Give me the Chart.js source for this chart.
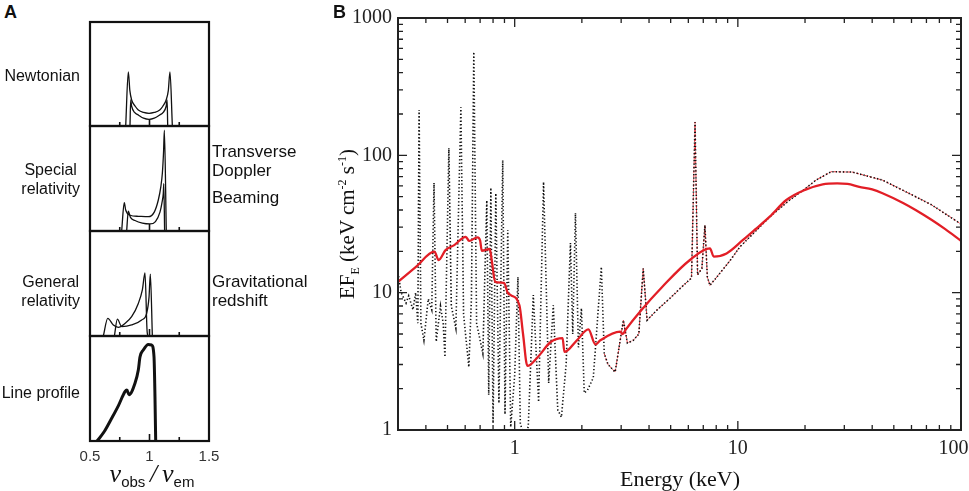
<!DOCTYPE html>
<html>
<head>
<meta charset="utf-8">
<script src="https://cdn.jsdelivr.net/npm/chart.js@4.4.1/dist/chart.umd.min.js"></script>
<style>
  body { margin: 0; background: #fff; width: 969px; height: 491px; position: relative; overflow: hidden;
         font-family: "Liberation Sans", Arial, sans-serif; color: #111; }
  canvas { position: absolute; }
  .lbl { position: absolute; font-size: 17px; line-height: 19px; white-space: nowrap; }
  .lft { font-size: 16px; }
  .panel { position: absolute; font-weight: bold; font-size: 18px; line-height: 18px; }
  .serif { position: absolute; font-family: "Liberation Serif", "Times New Roman", serif; white-space: nowrap; color: #111; }
  .nu { font-family: "Liberation Serif", serif; font-style: italic; font-size: 26px; }
  sub { font-size: 15px; }
</style>
</head>
<body>
<canvas id="a0" width="180" height="112" style="left:60px;top:18px"></canvas>
<canvas id="a1" width="180" height="113" style="left:60px;top:122px"></canvas>
<canvas id="a2" width="180" height="113" style="left:60px;top:227px"></canvas>
<canvas id="a3" width="180" height="159" style="left:60px;top:332px"></canvas>
<canvas id="specB" width="713" height="491" style="left:280px;top:0px"></canvas>

<div class="panel" style="left:4px;top:3px">A</div>
<div class="panel" style="left:333px;top:3px">B</div>

<div class="lbl lft" style="right:889px;top:66px;text-align:right">Newtonian</div>
<div class="lbl lft" style="right:889px;top:160px;text-align:center">Special<br>relativity</div>
<div class="lbl lft" style="right:889px;top:272px;text-align:center">General<br>relativity</div>
<div class="lbl lft" style="right:889px;top:383px;text-align:right">Line profile</div>
<div class="lbl" style="left:212px;top:142px">Transverse<br>Doppler</div>
<div class="lbl" style="left:212px;top:188px">Beaming</div>
<div class="lbl" style="left:212px;top:272px">Gravitational<br>redshift</div>

<div class="lbl" style="left:152px;top:478px;transform:translate(-50%,-50%);line-height:26px">
  <span class="nu">ν</span><sub>obs</sub> <span class="nu">/</span> <span class="nu">ν</span><sub>em</sub>
</div>

<div class="serif" style="left:680px;top:479px;transform:translate(-50%,-50%);font-size:22px">Energy (keV)</div>
<div class="serif" style="left:349px;top:224px;transform:translate(-50%,-50%) rotate(-90deg);font-size:21px">
  EF<sub style="font-size:12px">E</sub> (keV cm<sup style="font-size:12px">-2</sup> s<sup style="font-size:12px">-1</sup>)
</div>

<script>
// ---- panel A: line profiles (nu_obs/nu_em vs. arbitrary intensity) ----
const newtNu1 = [0.80, 0.822, 0.835, 0.85, 0.88, 0.906, 0.95, 0.996, 1.04, 1.086, 1.112, 1.14, 1.158, 1.172, 1.192];
const newtI1  = [0, 0.52, 0.34, 0.25, 0.19, 0.154, 0.13, 0.122, 0.13, 0.154, 0.19, 0.25, 0.34, 0.52, 0];
const newtNu2 = [0.836, 0.842, 0.85, 0.875, 0.906, 0.95, 0.996, 1.04, 1.086, 1.115, 1.14, 1.148, 1.153];
const newtI2  = [0, 0.25, 0.19, 0.13, 0.106, 0.075, 0.064, 0.075, 0.106, 0.13, 0.19, 0.25, 0];

const srNu1 = [0.766, 0.788, 0.80, 0.836, 0.906, 0.99, 1.04, 1.074, 1.095, 1.108, 1.118, 1.125, 1.141];
const srI1  = [0, 0.27, 0.2, 0.15, 0.14, 0.136, 0.18, 0.295, 0.42, 0.55, 0.75, 0.96, 0];
const srNu2 = [0.808, 0.822, 0.84, 0.878, 0.94, 1.004, 1.05, 1.088, 1.105, 1.116, 1.12, 1.127];
const srI2  = [0, 0.19, 0.13, 0.1, 0.075, 0.067, 0.09, 0.18, 0.27, 0.36, 0.45, 0];

const grNu1 = [0.612, 0.649, 0.696, 0.738, 0.794, 0.85, 0.906, 0.94, 0.962, 0.979, 0.985];
const grI1  = [0, 0.168, 0.105, 0.083, 0.12, 0.184, 0.31, 0.44, 0.6, 0.06, 0];
const grNu2 = [0.705, 0.73, 0.766, 0.85, 0.934, 0.976, 0.996, 1.007, 1.024];
const grI2  = [0, 0.16, 0.09, 0.105, 0.152, 0.216, 0.37, 0.59, 0];

const lineNu = [0.56, 0.62, 0.682, 0.74, 0.794, 0.81, 0.828, 0.878, 0.906, 0.92, 0.948, 0.99, 1.018, 1.038, 1.046, 1.052];
const lineI  = [0, 0.09, 0.216, 0.34, 0.47, 0.486, 0.44, 0.55, 0.676, 0.8, 0.867, 0.92, 0.914, 0.8, 0.42, 0];

const aTickLabels = [0.5, 1, 1.5];
const aMinorTicks = [0.75, 1.25];

// ---- panel B: spectrum (keV, keV cm^-2 s^-1) ----
const rawE = [0.30, 0.31, 0.326, 0.335, 0.35, 0.36, 0.368, 0.373, 0.38, 0.392, 0.41, 0.425, 0.435, 0.445,
  0.465, 0.478, 0.487, 0.507, 0.52, 0.545, 0.574, 0.59, 0.623, 0.64, 0.656, 0.675, 0.72, 0.75, 0.765,
  0.782, 0.80, 0.823, 0.85, 0.884, 0.905, 0.931, 0.96, 1.0, 1.034, 1.06, 1.1, 1.15, 1.212, 1.28, 1.347,
  1.42, 1.489, 1.56, 1.62, 1.7, 1.778, 1.82, 1.872, 1.93, 1.991, 2.05, 2.12, 2.25, 2.445, 2.52, 2.62,
  2.82, 2.97, 3.07, 3.2, 3.4, 3.6, 3.767, 3.92, 4.35, 5.0, 5.6, 6.2, 6.43, 6.6, 6.9, 7.12, 7.3, 7.5,
  8.2, 9.2, 10.2, 12, 13.9, 17, 20, 22.4, 26.2, 32.6, 44.5, 62.6, 74, 100];
const rawF = [14, 10, 8.4, 9.5, 7.5, 10, 6, 214, 6, 4.5, 9, 7.5, 63, 4.4,
  8, 6, 3.4, 113, 8, 5.5, 224, 7, 2.87, 9, 566, 6, 3.6, 47, 1.8,
  58, 1.12, 53, 1.57, 92, 1.3, 28.6, 1.05, 2.5, 13, 1.1, 0.95, 1.05, 9.6, 1.6, 64,
  2.2, 8.1, 1.4, 1.24, 3, 23, 5, 38, 4, 7.7, 1.86, 1.95, 2.4, 15.4, 3.6, 3.0,
  2.64, 4.5, 6.3, 4.3, 4.5, 5, 15, 6.3, 7.5, 9.2, 11, 12.8, 175, 13.5, 15, 31, 13, 11.3,
  13.5, 17, 21.5, 28, 35.6, 47, 57, 66, 76, 75.5, 66, 50, 43.5, 31.6];
// the red dashed copy of the same spectrum only shows through above this energy
const dashFrom = 2.5;

const smearE = [0.30, 0.361, 0.437, 0.456, 0.49, 0.536, 0.604, 0.625, 0.681, 0.70, 0.712, 0.773, 0.79,
  0.817, 0.896, 0.93, 0.96, 1.05, 1.09, 1.14, 1.27, 1.45, 1.64, 1.67, 1.9, 2.14, 2.3, 2.42, 2.97, 3.05,
  3.15, 3.65, 4.58, 6.1, 7.5, 7.8, 8.9, 10.55, 12, 13.9, 16.5, 20, 24, 27.9, 31, 35, 40, 44.5, 55, 62.6,
  74, 85, 100];
const smearF = [12, 15.4, 19.9, 17.3, 20.4, 22.2, 25.5, 23.8, 25.3, 24, 20.2, 20.8, 17,
  12, 11.8, 10, 9.6, 8.1, 5, 2.93, 3.4, 4.37, 4.67, 3.7, 4.5, 5.4, 4.2, 4.5, 5.2, 5.0,
  5.4, 7.3, 11, 17.3, 21, 18.3, 19.3, 24.2, 29, 35.8, 47.3, 56, 61.5, 62.5, 62, 59, 56.5, 53, 45, 40,
  33.8, 29, 23.9];

const xTickLabels = [1, 10, 100];
const yTickLabels = [1, 10, 100, 1000];

function pts(xs, ys) { return xs.map((x, i) => ({x: x, y: ys[i]})); }

// frame + inward ticks for the small panels
const aFrame = {
  id: 'aFrame',
  afterDatasetsDraw(chart) {
    const ctx = chart.ctx, a = chart.chartArea, xs = chart.scales.x;
    ctx.save();
    ctx.strokeStyle = '#111';
    ctx.lineWidth = 2.2;
    ctx.strokeRect(a.left, a.top, a.right - a.left, a.bottom - a.top);
    ctx.lineWidth = 1.6;
    aMinorTicks.concat([1]).forEach(v => {
      const px = xs.getPixelForValue(v);
      const len = v === 1 ? 7 : 4;
      ctx.beginPath(); ctx.moveTo(px, a.bottom); ctx.lineTo(px, a.bottom - len); ctx.stroke();
    });
    ctx.restore();
  }
};

function profileChart(id, sets, bottom) {
  const ds = sets.map(s => ({
    data: pts(s[0], s[1]), borderColor: '#111', borderWidth: s[2], pointRadius: 0,
    cubicInterpolationMode: 'monotone', fill: false
  }));
  const xScale = {
    type: 'linear', min: 0.5, max: 1.5, display: !!bottom,
    grid: {display: false, drawTicks: false}, border: {display: false},
    ticks: {font: {family: 'Liberation Sans', size: 15}, color: '#333', padding: 7, autoSkip: false,
            callback: v => String(v)},
    afterBuildTicks: s => { s.ticks = aTickLabels.map(v => ({value: v})); },
    afterFit: s => { if (bottom) s.height = 50; }
  };
  return new Chart(document.getElementById(id), {
    type: 'line',
    data: {datasets: ds},
    options: {
      responsive: false, animation: false,
      layout: {padding: {left: 30, right: 31, top: 4, bottom: bottom ? 0 : 4}},
      plugins: {legend: {display: false}, tooltip: {enabled: false}},
      scales: {x: xScale, y: {min: 0, max: 1, display: false}}
    },
    plugins: [aFrame]
  });
}

profileChart('a0', [[newtNu1, newtI1, 1.3], [newtNu2, newtI2, 1.3]], false);
profileChart('a1', [[srNu1, srI1, 1.3], [srNu2, srI2, 1.3]], false);
profileChart('a2', [[grNu1, grI1, 1.3], [grNu2, grI2, 1.3]], false);
profileChart('a3', [[lineNu, lineI, 3]], true);

// frame + inward log ticks on all four sides
const bFrame = {
  id: 'bFrame',
  afterDatasetsDraw(chart) {
    const ctx = chart.ctx, a = chart.chartArea, xs = chart.scales.x, ys = chart.scales.y;
    ctx.save();
    ctx.strokeStyle = '#222';
    ctx.lineWidth = 2;
    ctx.strokeRect(a.left, a.top, a.right - a.left, a.bottom - a.top);
    ctx.lineWidth = 1.3;
    function logVals(min, max) {
      const out = [];
      for (let d = Math.floor(Math.log10(min)); d <= Math.ceil(Math.log10(max)); d++) {
        for (let m = 1; m <= 9; m++) {
          const v = m * Math.pow(10, d);
          if (v >= min * 0.999 && v <= max * 1.001) out.push({v: v, major: m === 1});
        }
      }
      return out;
    }
    logVals(xs.min, xs.max).forEach(t => {
      const px = xs.getPixelForValue(t.v), len = t.major ? 9 : 5;
      ctx.beginPath();
      ctx.moveTo(px, a.bottom); ctx.lineTo(px, a.bottom - len);
      ctx.moveTo(px, a.top); ctx.lineTo(px, a.top + len);
      ctx.stroke();
    });
    logVals(ys.min, ys.max).forEach(t => {
      const py = ys.getPixelForValue(t.v), len = t.major ? 9 : 5;
      ctx.beginPath();
      ctx.moveTo(a.left, py); ctx.lineTo(a.left + len, py);
      ctx.moveTo(a.right, py); ctx.lineTo(a.right - len, py);
      ctx.stroke();
    });
    ctx.restore();
  }
};

const red = 'rgb(226, 30, 38)';
const rawPts = pts(rawE, rawF);
new Chart(document.getElementById('specB'), {
  type: 'line',
  data: {
    datasets: [
      {data: pts(smearE, smearF), borderColor: red, borderWidth: 2.3, pointRadius: 0,
       cubicInterpolationMode: 'monotone', order: 0},
      {data: rawPts, borderColor: '#111', borderWidth: 1.6, borderDash: [1.3, 2.2], pointRadius: 0, tension: 0, order: 1},
      {data: rawPts.filter(p => p.x >= dashFrom), borderColor: red, borderWidth: 0.9, borderDash: [3, 1.5],
       pointRadius: 0, tension: 0, order: 2}
    ]
  },
  options: {
    responsive: false, animation: false,
    layout: {padding: {left: 0, right: 32, top: 18, bottom: 0}},
    plugins: {legend: {display: false}, tooltip: {enabled: false}},
    scales: {
      x: {
        type: 'logarithmic', min: 0.3, max: 100,
        grid: {display: false, drawTicks: false}, border: {display: false},
        ticks: {font: {family: 'Liberation Serif', size: 20}, color: '#222', padding: 7, autoSkip: false,
                maxRotation: 0, callback: v => (v === 100 ? '100   ' : String(v))},
        afterBuildTicks: s => { s.ticks = xTickLabels.map(v => ({value: v})); },
        afterFit: s => { s.height = 61; }
      },
      y: {
        type: 'logarithmic', min: 1, max: 1000,
        grid: {display: false, drawTicks: false}, border: {display: false},
        ticks: {font: {family: 'Liberation Serif', size: 20}, color: '#222', padding: 6, autoSkip: false,
                callback: v => String(v)},
        afterBuildTicks: s => { s.ticks = yTickLabels.map(v => ({value: v})); },
        afterFit: s => { s.width = 118; }
      }
    }
  },
  plugins: [bFrame]
});
</script>
</body>
</html>
